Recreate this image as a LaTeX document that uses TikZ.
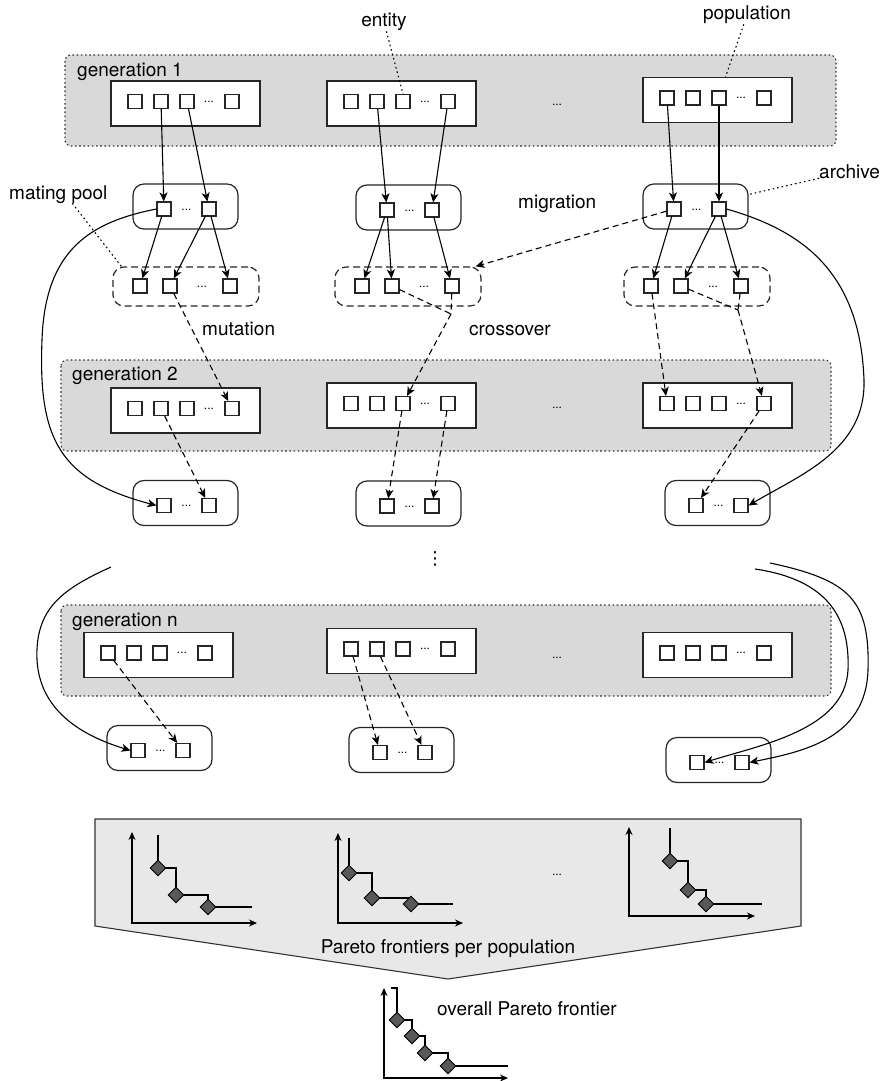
\documentclass[tikz,border=0pt]{standalone}
\usepackage{fontspec}
\setmainfont{TeX Gyre Heros}
\newfontfamily\symfont{DejaVu Sans}
\usetikzlibrary{arrows.meta,shapes.geometric}

\begin{document}
\begin{tikzpicture}[
			x=1pt,y=-1pt,
			band/.style={draw=black!80,fill=black!15,line width=1.1pt,rounded corners=6pt,dash pattern=on 1.6pt off 2.6pt},
			pop/.style={draw=black!85,fill=white,line width=1.2pt,minimum width=149pt,minimum height=45pt},
			ent/.style={draw=black!85,fill=white,line width=1.1pt,minimum size=14pt,inner sep=0pt},
			arch/.style={draw=black!85,fill=white,line width=1.2pt,rounded corners=11pt,minimum width=105pt,minimum height=45pt},
			pool/.style={arch,dash pattern=on 7pt off 4pt,minimum width=146pt,minimum height=39pt},
			dotsml/.style={font=\fontsize{12}{14}\selectfont,inner sep=0pt},
			lbl/.style={font=\fontsize{19}{23}\selectfont,inner sep=0pt},
			flow/.style={-{Stealth[length=9pt,width=8pt,inset=2.5pt]},line width=1.1pt},
			mut/.style={flow,dash pattern=on 6pt off 4pt},
			note/.style={line width=1.1pt,dash pattern=on 1.6pt off 3pt},
			panel/.style={draw=black!80,fill=black!9,line width=1.1pt},
			axis/.style={{Stealth[length=8pt,width=7pt]}-{Stealth[length=8pt,width=7pt]},line width=1.1pt},
			front/.style={line width=1.1pt},
			dia/.style={diamond,draw=black,fill=black!65,line width=0.9pt,minimum size=16pt,inner sep=0pt}]
			\useasboundingbox (0,0) rectangle (885,1081);
			% generations
			\draw[band] (65,55) rectangle (836,146);
			\draw[band] (61,360) rectangle (831,451);
			\draw[band] (61,605) rectangle (831,696);
			\node[lbl,anchor=base west] (gen1) at (77,76) {generation 1};
			\node[lbl,anchor=base west] (gen2) at (72,380) {generation 2};
			\node[lbl,anchor=base west] (genn) at (72,626) {generation n};
			\foreach \y in {105,408,658} \node[dotsml] (gd\y) at (557,\y) {...};
			% populations
			\foreach \nm/\x/\y in {g1a/111/103.5, g1b/327/103.5, g1c/643/100,
				g2a/111/410.5, g2b/327/405.5, g2c/643/405.5,
				gna/84/655, gnb/327/651, gnc/643/655} {
				\node[pop] (\nm) at (\x+74.5,\y) {};
				\foreach \i/\dx in {1/24,2/50,3/76,4/121}
				\node[ent] (\nm\i) at (\x+\dx,\y-2) {};
				\node[dotsml] (\nm-d) at (\x+98,\y-2) {...};
			}
			% archives
			\foreach \nm/\x/\y in {r1a/133/206.5, r1b/356/207.5, r1c/643/206.5,
				r2a/133/503, r2b/356/503.5, r2c/665/503,
				rna/107/748, rnb/349/750, rnc/666/760} {
				\node[arch] (\nm) at (\x+52.5,\y) {};
				\node[ent] (\nm1) at (\x+31,\y+2.5) {};
				\node[ent] (\nm2) at (\x+76,\y+2.5) {};
				\node[dotsml] (\nm-d) at (\x+53.5,\y+3) {...};
			}
			% mating pools
			\foreach \nm/\x in {pa/113, pb/335, pc/624} {
				\node[pool] (\nm) at (\x+73,286.5) {};
				\foreach \i/\dx in {1/27,2/57,3/117}
				\node[ent] (\nm\i) at (\x+\dx,286) {};
				\node[dotsml] (\nm-d) at (\x+89,287) {...};
			}
			\coordinate (xb) at (451,314);
			\coordinate (xc) at (738,310);
			% selection
			\foreach \s/\t in {g1a2/r1a1, g1a3/r1a2, g1b2/r1b1, g1b4/r1b2, g1c1/r1c1, g1c3/r1c2,
				r1a1/pa1, r1a2/pa2, r1a2/pa3, r1b1/pb1, r1b1/pb2, r1b2/pb3,
				r1c1/pc1, r1c2/pc2, r1c2/pc3}
			\draw[flow] (\s) -- (\t);
			% variation
			\foreach \s/\t in {pa2/g2a4, xb/g2b3, pc1/g2c1, xc/g2c4,
				g2a2/r2a2, g2b3/r2b1, g2b4/r2b2, g2c4/r2c1,
				gna1/rna2, gnb1/rnb1, gnb2/rnb2}
			\draw[mut] (\s) -- (\t);
			\draw[mut,-] (pb2) -- (xb) (pb3) -- (xb) (pc2) -- (xc) (pc3) -- (xc);
			\draw[mut] (r1c1) -- ([xshift=-6pt]pb.north east);
			% archive carried over
			\draw[flow] (r1a1.west) .. controls (90,222) and (45,250) .. (42,340)
			.. controls (38,440) and (60,480) .. (r2a1.west);
			\draw[flow] (r1c2.east) .. controls (800,230) and (860,270) .. (864,380)
			.. controls (866,450) and (800,475) .. (r2c2.east);
			\coordinate (ln) at (111,567);
			\coordinate (rn1) at (755,569);
			\coordinate (rn2) at (770,563);
			\draw[flow] (ln) .. controls (60,590) and (35,610) .. (37,660)
			.. controls (40,710) and (80,735) .. (rna1.west);
			\draw[flow] (rn1) .. controls (830,580) and (850,620) .. (848,670)
			.. controls (845,730) and (760,745) .. (rnc1.east);
			\draw[flow] (rn2) .. controls (850,580) and (870,600) .. (868,670)
			.. controls (866,740) and (800,752) .. (rnc2.east);
			\node[font=\symfont\fontsize{18}{20}\selectfont,inner sep=0pt] (vdl) at (435,559) {⋮};
			% labels
			\node[lbl,anchor=base] (entl) at (384,27) {entity};
			\draw[note] (entl) -- (g1b3.north);
			\node[lbl,anchor=base] (popl) at (747,20) {population};
			\draw[note] (popl) -- ([xshift=8pt]g1c.north);
			\node[lbl,anchor=base west] (arcl) at (819,178) {archive};
			\draw[note] (arcl) -- ([yshift=12pt]r1c.east);
			\node[lbl,anchor=base west] (matl) at (9,199) {mating pool};
			\draw[note] ([xshift=14pt]matl.south) -- ([xshift=9pt]pa.north west);
			\node[lbl,anchor=base west] (migl) at (518,208) {migration};
			\node[lbl,anchor=base west] (mutl) at (202,335) {mutation};
			\node[lbl,anchor=base west] (crol) at (469,335) {crossover};
			% pareto frontiers
			\draw[panel] (95,819) -- (801,819) -- (801,926) -- (448,979) -- (95,926) -- cycle;
			\node[dotsml] (pd) at (557,875) {...};
			\draw[axis] (132,832) -- (132,923) -- (257,923);
			\draw[front] (158,835) -- (158,868) -| (176,895) -| (208,907) -- (252,907);
			\foreach \px/\py [count=\k] in {158/868,176/895,208/907}
			\node[dia] (fa\k) at (\px,\py) {};
			\draw[axis] (338,833) -- (338,923) -- (463,923);
			\draw[front] (349,838) -- (349,873) -| (372,898) -| (411,904) -- (453,904);
			\foreach \px/\py [count=\k] in {349/873,372/898,411/904}
			\node[dia] (fb\k) at (\px,\py) {};
			\draw[axis] (629,827) -- (629,916) -- (755,916);
			\draw[front] (670,828) -- (670,861) -| (688,890) -| (706,904) -- (762,904);
			\foreach \px/\py [count=\k] in {670/861,688/890,706/904}
			\node[dia] (fc\k) at (\px,\py) {};
			\node[lbl,anchor=base] (parl) at (448,953) {Pareto frontiers per population};
			\draw[axis] (384,988) -- (384,1078) -- (508,1078);
			\draw[front] (391,988) -| (397,1020) -| (412,1036) -| (425,1053) -| (448,1066) -- (508,1066);
			\foreach \px/\py [count=\k] in {397/1020,412/1036,425/1053,448/1066}
			\node[dia] (fo\k) at (\px,\py) {};
			\node[lbl,anchor=base west] (ovl) at (437,1015) {overall Pareto frontier};
		\end{tikzpicture}
\end{document}
